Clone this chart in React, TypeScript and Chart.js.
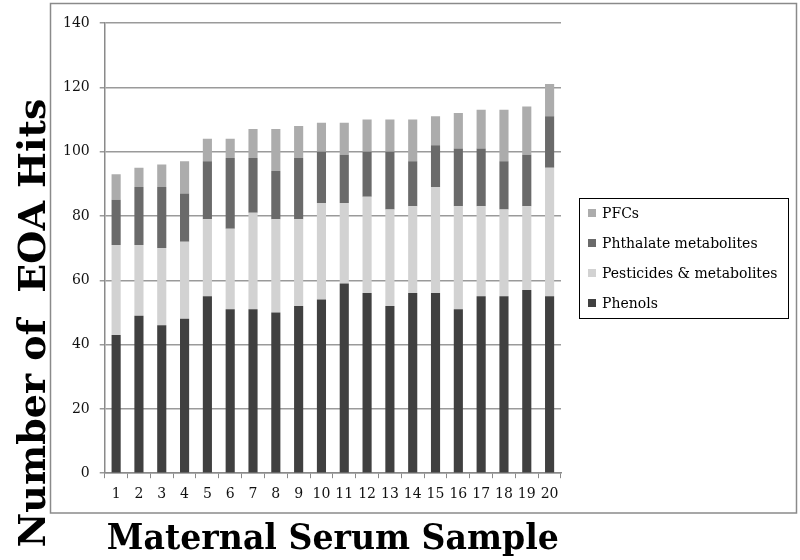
import React, { useEffect, useRef } from "react";
import { Chart, registerables } from "chart.js";

Chart.register(...registerables);

const categories = ["1","2","3","4","5","6","7","8","9","10","11","12","13","14","15","16","17","18","19","20"];
const phenols = [43,49,46,48,55,51,51,50,52,54,59,56,52,56,56,51,55,55,57,55];
const pesticides = [28,22,24,24,24,25,30,29,27,30,25,30,30,27,33,32,28,27,26,40];
const phthalates = [14,18,19,15,18,22,17,15,19,16,15,14,18,14,13,18,18,15,16,16];
const pfcs = [8,6,7,10,7,6,9,13,10,9,10,10,10,13,9,11,12,16,15,10];
const seriesNames = ["Phenols", "Pesticides & metabolites", "Phthalate metabolites", "PFCs"];
const seriesColors = ["#404040", "#d2d2d2", "#6a6a6a", "#acacac"];
const xTitle = "Maternal Serum Sample";
const yTitle = "Number of  EOA Hits";

const SERIF = "'DejaVu Serif', serif";

const decorPlugin = {
  id: "decor",
  beforeDraw(chart: any) {
    const ctx = chart.ctx;
    ctx.save();
    ctx.fillStyle = "#ffffff";
    ctx.fillRect(0, 0, chart.width, chart.height);
    ctx.restore();
  },
  afterDraw(chart: any) {
    const ctx = chart.ctx;
    const area = chart.chartArea;
    ctx.save();
    // outer frame
    ctx.strokeStyle = "#8a8a8a";
    ctx.lineWidth = 1.5;
    ctx.strokeRect(50.5, 3.5, 746, 509.5);

    // legend (reversed order, PFCs on top)
    const boxLeft = area.right + 18;
    const boxTop = 198;
    const boxW = 209;
    const boxH = 120;
    ctx.strokeStyle = "#000000";
    ctx.lineWidth = 1;
    ctx.strokeRect(boxLeft + 0.5, boxTop + 0.5, boxW, boxH);
    ctx.font = "14px " + SERIF;
    ctx.textBaseline = "middle";
    ctx.textAlign = "left";
    const ds = chart.data.datasets;
    for (let i = 0; i < ds.length; i++) {
      const d = ds[ds.length - 1 - i];
      const cy = boxTop + 15 + i * 30;
      ctx.fillStyle = d.backgroundColor;
      ctx.fillRect(boxLeft + 9, cy - 4, 8, 8);
      ctx.fillStyle = "#000000";
      ctx.fillText(d.label, boxLeft + 23, cy + 1);
    }

    // axis titles
    ctx.fillStyle = "#000000";
    ctx.font = "bold 36px " + SERIF;
    ctx.textAlign = "center";
    ctx.textBaseline = "alphabetic";
    ctx.fillText(xTitle, (area.left + area.right) / 2, 549, 452);

    ctx.font = "bold 38px " + SERIF;
    ctx.translate(45, 323);
    ctx.rotate(-Math.PI / 2);
    ctx.fillText(yTitle, 0, 0, 453);
    ctx.restore();
  },
};

export default function App() {
  const ref = useRef<HTMLCanvasElement>(null);
  useEffect(() => {
    if (!ref.current) return;
    const values = [phenols, pesticides, phthalates, pfcs];
    const chart = new Chart(ref.current, {
      type: "bar",
      data: {
        labels: categories,
        datasets: values.map((v, i) => ({
          label: seriesNames[i],
          data: v,
          backgroundColor: seriesColors[i],
          borderWidth: 0,
          categoryPercentage: 1,
          barPercentage: 0.4,
        })),
      },
      options: {
        responsive: false,
        animation: false,
        layout: { padding: { left: 53, right: 239, top: 23, bottom: 49 } },
        plugins: {
          legend: { display: false },
          tooltip: { enabled: false },
          title: { display: false },
        },
        scales: {
          x: {
            stacked: true,
            grid: {
              display: true,
              drawOnChartArea: false,
              drawTicks: true,
              tickLength: 5,
              color: "#8a8a8a",
              lineWidth: 1,
              offset: true,
            },
            border: { display: true, color: "#8a8a8a", width: 1.5 },
            ticks: {
              color: "#111111",
              font: { family: SERIF, size: 14 },
              padding: 8,
              maxRotation: 0,
              autoSkip: false,
            },
          },
          y: {
            stacked: true,
            min: 0,
            max: 140,
            grid: {
              color: "#9a9a9a",
              lineWidth: 1.5,
              tickLength: 5,
              drawTicks: true,
            },
            border: { display: true, color: "#8a8a8a", width: 1.5 },
            ticks: {
              stepSize: 20,
              color: "#111111",
              font: { family: SERIF, size: 14 },
              padding: 10,
            },
          },
        },
      },
      plugins: [decorPlugin],
    });
    return () => chart.destroy();
  }, []);

  return (
    <div style={{ position: "absolute", left: 0, top: 0, width: 800, height: 560 }}>
      <canvas ref={ref} width={800} height={560} style={{ display: "block", width: 800, height: 560 }} />
    </div>
  );
}
